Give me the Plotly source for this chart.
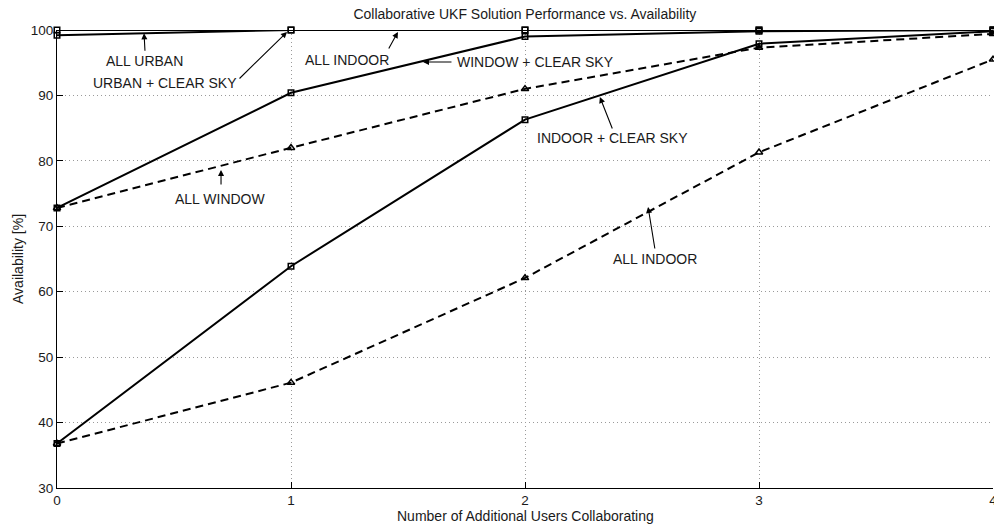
import plotly.graph_objects as go

users = [0, 1, 2, 3, 4]
urban_clear_sky = [100.0, 100.0, 100.0, 100.0, 100.0]
all_urban = [99.2, 100.0, 100.0, 100.0, 100.0]
window_clear_sky = [72.8, 90.4, 99.0, 99.8, 100.0]
all_window = [72.8, 82.0, 91.0, 97.3, 99.4]
indoor_clear_sky = [36.8, 63.9, 86.3, 97.9, 99.8]
all_indoor = [36.8, 46.1, 62.1, 81.3, 95.5]

x_ticks = [0, 1, 2, 3, 4]
y_ticks = [30, 40, 50, 60, 70, 80, 90, 100]

FONT = "Liberation Sans, Arial, Helvetica, sans-serif"
DASH = "8px,5px"

fig = go.Figure()

def add(y, solid, name):
    fig.add_trace(go.Scatter(
        x=users, y=y, mode="lines+markers", name=name,
        line=dict(color="black", width=2, dash="solid" if solid else DASH),
        marker=dict(symbol="square-open" if solid else "triangle-up-open",
                    size=5.5 if solid else 6.5, color="black",
                    line=dict(color="black", width=1.5)),
        cliponaxis=False, showlegend=False))

add(all_indoor, False, "ALL INDOOR")
add(indoor_clear_sky, True, "INDOOR + CLEAR SKY")
add(all_window, False, "ALL WINDOW")
add(window_clear_sky, True, "WINDOW + CLEAR SKY")
add(all_urban, True, "ALL URBAN")
add(urban_clear_sky, True, "URBAN + CLEAR SKY")

# (arrow tip x, tip y, tail dx px, tail dy px, text, text x, text y, xanchor)
labels = [
    (0.372, 99.5, 1, 19, "ALL URBAN", 0.376, 95.3, "center"),
    (0.983, 99.7, -49, 48, "URBAN + CLEAR SKY", 0.4615, 91.9, "center"),
    (1.457, 99.7, -10, 18, "ALL INDOOR", 1.239, 95.4, "center"),
    (1.564, 95.1, 30, 0, "WINDOW + CLEAR SKY", 1.70, 95.1, "left"),
    (0.701, 78.6, 0, 16, "ALL WINDOW", 0.697, 74.1, "center"),
    (2.32, 89.76, 13, 33, "INDOOR + CLEAR SKY", 2.376, 83.5, "center"),
    (2.526, 72.95, 7, 43, "ALL INDOOR", 2.556, 65.0, "center"),
]
for tx, ty, dx, dy, text, lx, ly, xa in labels:
    fig.add_annotation(x=tx, y=ty, ax=dx, ay=dy, text="", showarrow=True,
                       arrowhead=2, arrowsize=1.1, arrowwidth=1.1,
                       arrowcolor="black")
    fig.add_annotation(x=lx, y=ly, text=text, showarrow=False, xanchor=xa,
                       yanchor="middle",
                       font=dict(family=FONT, size=14, color="#1a1a1a"))

fig.add_annotation(xref="paper", yref="paper", x=0.5, y=-0.0611,
                   text="Number of Additional Users Collaborating",
                   showarrow=False, yanchor="middle",
                   font=dict(family=FONT, size=14, color="#1a1a1a"))
fig.add_annotation(xref="paper", yref="paper", x=-0.0417, y=0.5,
                   text="Availability [%]", textangle=-90,
                   showarrow=False, xanchor="center",
                   font=dict(family=FONT, size=14, color="#1a1a1a"))

axis_common = dict(
    showline=True, linecolor="black", linewidth=1,
    ticks="inside", ticklen=6, tickcolor="black", tickwidth=1,
    showgrid=True, gridcolor="#9a9a9a", griddash="1px,3px", gridwidth=1,
    zeroline=False, ticklabeloverflow="allow", automargin=False,
    tickfont=dict(family=FONT, size=13.5, color="#1a1a1a"),
)

fig.update_layout(
    width=994, height=527,
    margin=dict(l=57, r=1, t=30, b=39, autoexpand=False),
    paper_bgcolor="white", plot_bgcolor="white",
    title=dict(text="Collaborative UKF Solution Performance vs. Availability",
               x=0.528, xanchor="center", y=1 - 14 / 527, yanchor="middle",
               yref="container",
               font=dict(family=FONT, size=14, color="#1a1a1a")),
    xaxis=dict(range=[0, 4], tickvals=x_ticks, **axis_common),
    yaxis=dict(range=[30, 100], tickvals=y_ticks, **axis_common),
)

fig.write_html("out.html")
